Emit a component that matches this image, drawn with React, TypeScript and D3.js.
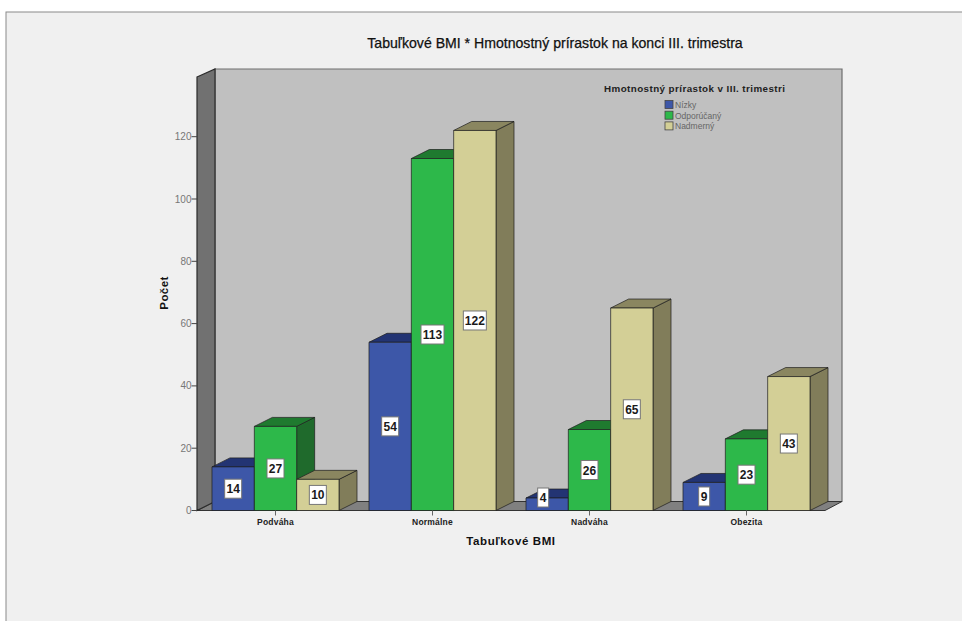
import React from "react";
import * as d3 from "d3";

const categories = ["Podváha", "Normálne", "Nadváha", "Obezita"];
const seriesNames = ["Nízky", "Odporúčaný", "Nadmerný"];
const lowGain = [14, 54, 4, 9];
const recommendedGain = [27, 113, 26, 23];
const excessGain = [10, 122, 65, 43];
const seriesValues = [lowGain, recommendedGain, excessGain];
const yTicks = [0, 20, 40, 60, 80, 100, 120];
const faceColors = ["#3d57a8", "#2db84a", "#d3cf96"];
const topColors = ["#233473", "#1f7a2f", "#8a8660"];
const sideColors = ["#233473", "#1f6a2c", "#817d5a"];

const WIDTH = 962;
const HEIGHT = 621;
const DEPTH_X = 18;
const DEPTH_Y = 9;
const FONT = "'Liberation Sans', Arial, sans-serif";

const y = d3.scaleLinear().domain([0, 120]).range([510.5, 136.7]);
const x0 = d3.scaleBand<string>().domain(categories).range([197, 825]).paddingInner(0.191).paddingOuter(0.0955);
const x1 = d3.scaleBand<string>().domain(seriesNames).range([0, x0.bandwidth()]);

const poly = (pts: [number, number][]) => pts.map((p) => p.join(",")).join(" ");

function Bar({ left, width, top, bottom, face, side, roof }: any) {
  const right = left + width;
  return (
    <g stroke="#1e1e1e" strokeOpacity={0.7} strokeWidth={1} strokeLinejoin="round">
      <polygon
        fill={side}
        points={poly([[right, top], [right + DEPTH_X, top - DEPTH_Y], [right + DEPTH_X, bottom - DEPTH_Y], [right, bottom]])}
      />
      <polygon
        fill={roof}
        points={poly([[left, top], [left + DEPTH_X, top - DEPTH_Y], [right + DEPTH_X, top - DEPTH_Y], [right, top]])}
      />
      <rect x={left} y={top} width={width} height={bottom - top} fill={face} />
    </g>
  );
}

function ValueLabel({ cx, cy, value }: { cx: number; cy: number; value: number }) {
  const w = value >= 100 ? 23 : value >= 10 ? 17 : 11;
  return (
    <g>
      <rect x={cx - w / 2} y={cy - 9.5} width={w} height={19} fill="#ffffff" stroke="#777" strokeWidth={1} />
      <text x={cx} y={cy + 4.5} textAnchor="middle" fontFamily={FONT} fontSize={12} fontWeight={700} fill="#1a1a1a">
        {value}
      </text>
    </g>
  );
}

export default function App() {
  const floorY = y(0);
  const topY = 77;
  const leftX = 197;
  const rightX = 825;

  return (
    <svg
      width={WIDTH}
      height={HEIGHT}
      viewBox={`0 0 ${WIDTH} ${HEIGHT}`}
      style={{ position: "absolute", left: 0, top: 0, display: "block", background: "#ffffff" }}
    >
      {/* page panel */}
      <rect x={6} y={12} width={WIDTH} height={HEIGHT} fill="#f0f0f0" stroke="#8a8a8a" strokeWidth={1} />

      <text x={555} y={48.3} textAnchor="middle" fontFamily={FONT} fontSize={14.1} stroke="#111" strokeWidth={0.25} fill="#111">
        Tabuľkové BMI * Hmotnostný prírastok na konci III. trimestra
      </text>

      {/* chart box: back wall, floor and left wall */}
      <polygon
        fill="#c0c0c0"
        stroke="#6e6e6e"
        strokeWidth={1.2}
        points={poly([[leftX + DEPTH_X, topY - 8], [rightX + 17, topY - 8], [rightX + 17, floorY - DEPTH_Y], [leftX + DEPTH_X, floorY - DEPTH_Y]])}
      />
      <polygon
        fill="#808080"
        stroke="#333"
        strokeWidth={1}
        points={poly([[leftX, floorY], [rightX, floorY], [rightX + 17, floorY - DEPTH_Y], [leftX + DEPTH_X, floorY - DEPTH_Y]])}
      />
      <polygon
        fill="#717171"
        stroke="#2b2b2b"
        strokeWidth={1.2}
        points={poly([[leftX, topY], [leftX + DEPTH_X, topY - 8], [leftX + DEPTH_X, floorY - DEPTH_Y], [leftX, floorY]])}
      />

      {/* y axis */}
      {yTicks.map((t) => (
        <g key={t}>
          <line x1={191.5} x2={leftX} y1={y(t)} y2={y(t)} stroke="#444" strokeWidth={1} />
          <text x={191.5} y={y(t) + 3.5} textAnchor="end" fontFamily={FONT} fontSize={10} fill="#777">
            {t}
          </text>
        </g>
      ))}
      <text
        transform="translate(167.5,293) rotate(-90)"
        textAnchor="middle"
        fontFamily={FONT}
        fontSize={11.5}
        fontWeight={700}
        letterSpacing={0.4}
        fill="#111"
      >
        Počet
      </text>

      {/* bars */}
      {categories.map((cat, c) =>
        seriesNames.map((name, s) => (
          <Bar
            key={cat + name}
            left={(x0(cat) ?? 0) + (x1(name) ?? 0)}
            width={x1.bandwidth()}
            top={y(seriesValues[s][c])}
            bottom={floorY}
            face={faceColors[s]}
            side={sideColors[s]}
            roof={topColors[s]}
          />
        ))
      )}

      {/* value labels: very short bars push theirs up and to the left */}
      {categories.map((cat, c) =>
        seriesNames.map((name, s) => {
          const v = seriesValues[s][c];
          const mid = (y(v) + floorY) / 2;
          const limit = floorY - 13;
          const cx = (x0(cat) ?? 0) + (x1(name) ?? 0) + x1.bandwidth() / 2 - (mid > limit ? 4 : 0);
          return <ValueLabel key={cat + name} cx={cx} cy={Math.min(mid, limit)} value={v} />;
        })
      )}

      {/* x axis */}
      {categories.map((cat) => {
        const cx = (x0(cat) ?? 0) + x0.bandwidth() / 2;
        return (
          <g key={cat}>
            <line x1={cx} x2={cx} y1={floorY} y2={floorY + 5} stroke="#666" />
            <text x={cx} y={525} textAnchor="middle" fontFamily={FONT} fontSize={8.5} fontWeight={700} fill="#222" letterSpacing={0.2}>
              {cat}
            </text>
          </g>
        );
      })}
      <text x={511} y={545} textAnchor="middle" fontFamily={FONT} fontSize={11.5} fontWeight={700} letterSpacing={0.6} fill="#111">
        Tabuľkové BMI
      </text>

      {/* legend */}
      <text x={604} y={92} fontFamily={FONT} fontSize={9.8} fontWeight={700} letterSpacing={0.43} fill="#222">
        Hmotnostný prírastok v III. trimestri
      </text>
      {seriesNames.map((name, i) => (
        <g key={name}>
          <rect x={665} y={100.5 + i * 10.7} width={8} height={8} fill={faceColors[i]} stroke="#444" strokeWidth={0.8} />
          <text x={675} y={108 + i * 10.7} fontFamily={FONT} fontSize={8.5} fill="#666">
            {name}
          </text>
        </g>
      ))}
    </svg>
  );
}
